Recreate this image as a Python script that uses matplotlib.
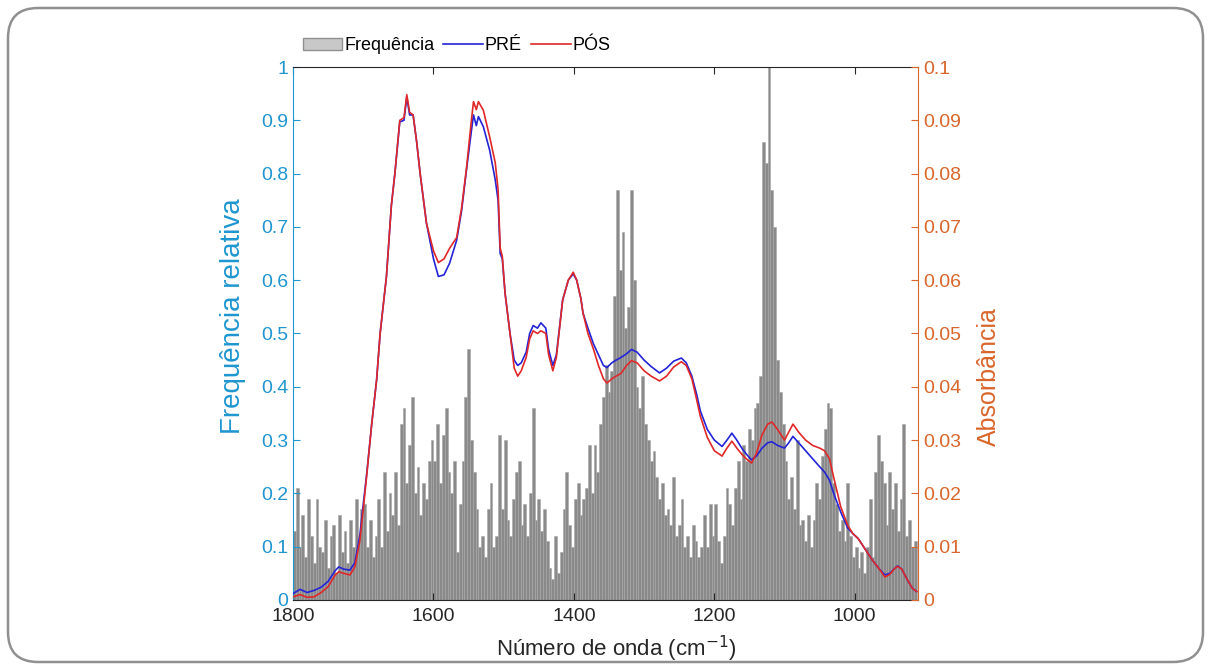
import numpy as np
import matplotlib.pyplot as plt
from matplotlib.patches import Patch, FancyBboxPatch
from matplotlib.lines import Line2D

plt.rcParams['font.family'] = ['Liberation Sans', 'DejaVu Sans']

# histogram of relative frequency, 4 cm-1 bins from 1800 down to 912
bin_centers = np.arange(1798, 912, -4)
freq = [
    # 1800-1700
    0.13, 0.21, 0.10, 0.16, 0.08, 0.19, 0.12, 0.07, 0.19, 0.10, 0.09, 0.15, 0.06,
    0.12, 0.14, 0.05, 0.16, 0.09, 0.13, 0.07, 0.15, 0.10, 0.19, 0.12, 0.17,
    # 1700-1600
    0.18, 0.10, 0.15, 0.08, 0.12, 0.19, 0.10, 0.24, 0.13, 0.20, 0.16, 0.24, 0.14,
    0.33, 0.36, 0.22, 0.29, 0.38, 0.20, 0.25, 0.16, 0.22, 0.19, 0.26, 0.30,
    # 1600-1500
    0.26, 0.33, 0.22, 0.31, 0.36, 0.24, 0.20, 0.26, 0.09, 0.18, 0.26, 0.38, 0.47,
    0.30, 0.24, 0.17, 0.10, 0.12, 0.08, 0.17, 0.22, 0.10, 0.12, 0.31, 0.17,
    # 1500-1400
    0.30, 0.15, 0.12, 0.19, 0.24, 0.26, 0.14, 0.18, 0.12, 0.20, 0.36, 0.15, 0.19,
    0.13, 0.17, 0.11, 0.06, 0.04, 0.12, 0.05, 0.09, 0.17, 0.24, 0.14, 0.10,
    # 1400-1300
    0.19, 0.22, 0.16, 0.19, 0.21, 0.29, 0.20, 0.29, 0.24, 0.33, 0.38, 0.44, 0.39,
    0.43, 0.57, 0.77, 0.62, 0.69, 0.51, 0.55, 0.77, 0.60, 0.40, 0.36, 0.42,
    # 1300-1200
    0.33, 0.30, 0.26, 0.28, 0.23, 0.19, 0.22, 0.16, 0.17, 0.14, 0.23, 0.12, 0.14,
    0.19, 0.10, 0.12, 0.08, 0.14, 0.11, 0.08, 0.10, 0.16, 0.10, 0.18, 0.12,
    # 1200-1100
    0.18, 0.11, 0.07, 0.12, 0.21, 0.18, 0.14, 0.21, 0.26, 0.19, 0.29, 0.26, 0.32,
    0.30, 0.36, 0.37, 0.42, 0.86, 0.82, 1.00, 0.77, 0.70, 0.45, 0.39, 0.33,
    # 1100-1000
    0.26, 0.19, 0.23, 0.17, 0.30, 0.14, 0.15, 0.11, 0.16, 0.10, 0.15, 0.22, 0.19,
    0.27, 0.32, 0.37, 0.36, 0.22, 0.18, 0.13, 0.15, 0.11, 0.22, 0.12, 0.08,
    # 1000-912
    0.10, 0.06, 0.09, 0.05, 0.10, 0.19, 0.08, 0.24, 0.31, 0.26, 0.22, 0.14, 0.24,
    0.17, 0.22, 0.13, 0.19, 0.33, 0.12, 0.15, 0.10, 0.11,
]

# absorbance spectra
wn = [1800, 1790, 1780, 1770, 1760, 1750, 1740, 1735, 1728, 1719, 1712, 1705, 1700,
      1695, 1688, 1681, 1676, 1667, 1660, 1655, 1648, 1642, 1638, 1634, 1629, 1624,
      1619, 1610, 1600, 1593, 1585, 1577, 1567, 1560, 1553, 1546, 1543, 1539, 1536,
      1529, 1520, 1512, 1508, 1505, 1502, 1498, 1491, 1485, 1480, 1475, 1468, 1463,
      1458, 1452, 1447, 1440, 1436, 1430, 1425, 1416, 1408, 1401, 1396, 1390, 1387,
      1380, 1372, 1365, 1358, 1353, 1346, 1340, 1333, 1325, 1318, 1310, 1300, 1290,
      1278, 1268, 1258, 1247, 1240, 1232, 1225, 1220, 1210, 1200, 1189, 1182, 1175,
      1168, 1160, 1152, 1147, 1140, 1132, 1124, 1118, 1110, 1100, 1094, 1088, 1080,
      1070, 1060, 1050, 1043, 1036, 1030, 1020, 1010, 1003, 995, 985, 975, 965, 957,
      950, 944, 939, 933, 926, 918, 912]
pre = [0.0012, 0.0020, 0.0014, 0.0018, 0.0024, 0.0035, 0.0055, 0.0062, 0.0058, 0.0056,
       0.0070, 0.0120, 0.0180, 0.0238, 0.0330, 0.0413, 0.0500, 0.0607, 0.0740, 0.0800,
       0.0897, 0.0900, 0.0944, 0.0910, 0.0910, 0.0860, 0.0800, 0.0707, 0.0640, 0.0607,
       0.0610, 0.0632, 0.0675, 0.0730, 0.0807, 0.0880, 0.0910, 0.0890, 0.0907, 0.0888,
       0.0844, 0.0788, 0.0750, 0.0650, 0.0640, 0.0575, 0.0500, 0.0450, 0.0440, 0.0445,
       0.0465, 0.0500, 0.0515, 0.0510, 0.0520, 0.0510, 0.0470, 0.0440, 0.0460, 0.0563,
       0.0600, 0.0612, 0.0600, 0.0565, 0.0538, 0.0510, 0.0480, 0.0460, 0.0440, 0.0436,
       0.0445, 0.0450, 0.0455, 0.0462, 0.0470, 0.0465, 0.0450, 0.0438, 0.0426, 0.0435,
       0.0448, 0.0454, 0.0445, 0.0420, 0.0385, 0.0355, 0.0320, 0.0300, 0.0288, 0.0300,
       0.0313, 0.0300, 0.0283, 0.0270, 0.0263, 0.0270, 0.0285, 0.0295, 0.0297, 0.0290,
       0.0285, 0.0295, 0.0307, 0.0295, 0.0280, 0.0265, 0.0250, 0.0240, 0.0225, 0.0200,
       0.0165, 0.0135, 0.0125, 0.0115, 0.0095, 0.0075, 0.0058, 0.0047, 0.0050, 0.0058,
       0.0064, 0.0058, 0.0040, 0.0022, 0.0016]
pos = [0.0006, 0.0010, 0.0005, 0.0006, 0.0014, 0.0025, 0.0047, 0.0053, 0.0050, 0.0047,
       0.0062, 0.0110, 0.0170, 0.0235, 0.0330, 0.0413, 0.0500, 0.0607, 0.0740, 0.0800,
       0.0900, 0.0905, 0.0948, 0.0915, 0.0910, 0.0860, 0.0800, 0.0707, 0.0655, 0.0633,
       0.0640, 0.0660, 0.0680, 0.0735, 0.0810, 0.0900, 0.0935, 0.0920, 0.0935, 0.0919,
       0.0869, 0.0820, 0.0770, 0.0660, 0.0645, 0.0575, 0.0500, 0.0435, 0.0420, 0.0430,
       0.0455, 0.0490, 0.0505, 0.0500, 0.0505, 0.0500, 0.0460, 0.0430, 0.0455, 0.0563,
       0.0600, 0.0615, 0.0600, 0.0565, 0.0538, 0.0500, 0.0470, 0.0440, 0.0415, 0.0407,
       0.0415, 0.0420, 0.0425, 0.0440, 0.0449, 0.0445, 0.0430, 0.0420, 0.0411, 0.0420,
       0.0437, 0.0447, 0.0440, 0.0415, 0.0375, 0.0345, 0.0305, 0.0280, 0.0270, 0.0285,
       0.0298, 0.0285, 0.0272, 0.0262, 0.0257, 0.0275, 0.0310, 0.0330, 0.0334, 0.0320,
       0.0300, 0.0315, 0.0330, 0.0315, 0.0300, 0.0290, 0.0285, 0.0280, 0.0265, 0.0230,
       0.0175, 0.0140, 0.0125, 0.0115, 0.0095, 0.0075, 0.0058, 0.0043, 0.0048, 0.0058,
       0.0063, 0.0058, 0.0040, 0.0022, 0.0016]

blue_axis = '#1f96d0'
orange_axis = '#d9662b'

fig = plt.figure(figsize=(12.11, 6.70), dpi=100)
ax = fig.add_axes([0.242, 0.1045, 0.516, 0.7955])

ax.bar(bin_centers, freq, width=4, color='#8a8a8a', edgecolor='#a6a6a6', linewidth=0.4, zorder=1)
ax.set_xlim(1800, 910)
ax.set_ylim(0, 1)
ax.set_xticks([1800, 1600, 1400, 1200, 1000])
ax.set_yticks(np.arange(0, 1.01, 0.1))
ax.set_yticklabels(['0', '0.1', '0.2', '0.3', '0.4', '0.5', '0.6', '0.7', '0.8', '0.9', '1'])
ax.tick_params(axis='x', direction='in', top=True, labelsize=14, colors='#262626', length=5, pad=6)
ax.tick_params(axis='y', direction='in', labelsize=14, colors=blue_axis, length=5)
ax.set_ylabel('Frequência relativa', fontsize=20, color=blue_axis)
ax.yaxis.set_label_coords(-0.076, 0.533)
ax.set_xlabel('Número de onda (cm$^{-1}$)', fontsize=16, color='#262626')
ax.xaxis.set_label_coords(0.518, -0.064)
ax.spines['left'].set_color(blue_axis)
ax.spines['bottom'].set_color('#262626')
ax.spines['top'].set_color('#262626')
ax.spines['right'].set_visible(False)

ax2 = ax.twinx()
ax2.plot(wn, pre, color='#2323d8', lw=1.2, zorder=3)
ax2.plot(wn, pos, color='#e02828', lw=1.2, zorder=4)
ax2.set_ylim(0, 0.1)
ax2.set_yticks(np.arange(0, 0.101, 0.01))
ax2.set_yticklabels(['0', '0.01', '0.02', '0.03', '0.04', '0.05', '0.06', '0.07', '0.08', '0.09', '0.1'])
ax2.tick_params(axis='y', direction='in', labelsize=14, colors=orange_axis, length=5)
ax2.set_ylabel('Absorbância', fontsize=18, color=orange_axis)
ax2.yaxis.set_label_coords(1.094, 0.42)
ax2.spines['right'].set_color(orange_axis)
ax2.spines['left'].set_visible(False)
ax2.spines['top'].set_visible(False)
ax2.spines['bottom'].set_visible(False)

handles = [Patch(facecolor='#c8c8c8', edgecolor='#909090'),
           Line2D([], [], color='#2323d8', lw=1.2),
           Line2D([], [], color='#e02828', lw=1.2)]
fig.legend(handles, ['Frequência', 'PRÉ', 'PÓS'], loc='lower left',
           bbox_to_anchor=(0.244, 0.908), ncol=3, frameon=False, fontsize=13,
           handlelength=2.2, handletextpad=0.1, columnspacing=0.5, borderaxespad=0)

frame = FancyBboxPatch((0.08, 0.08), 11.95, 6.54, boxstyle='round,pad=0,rounding_size=0.3',
                       transform=fig.dpi_scale_trans, facecolor='none',
                       edgecolor='#909090', lw=1.8)
fig.add_artist(frame)

fig.savefig('out.png', dpi=100)
